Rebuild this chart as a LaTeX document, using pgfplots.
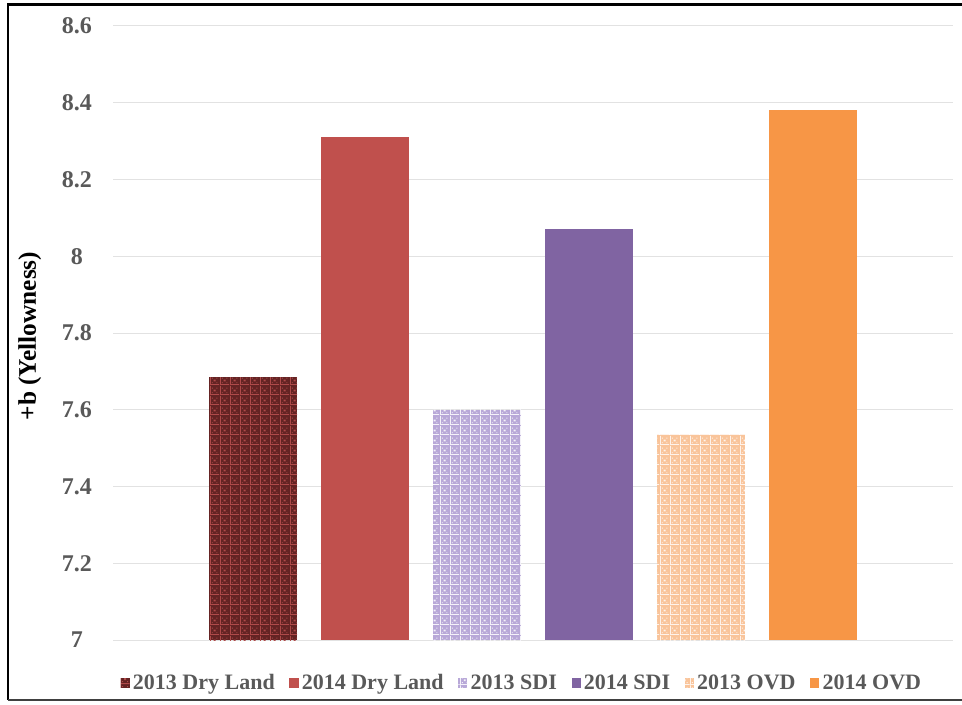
\documentclass[border=0pt]{standalone}
\usepackage{fontspec}
\setmainfont{Liberation Serif}
\usepackage{pgfplots}
\pgfplotsset{compat=1.18}
\usetikzlibrary{patterns}

\definecolor{txtgray}{HTML}{595959}
\definecolor{gridgray}{HTML}{E2E2E2}
\definecolor{dlbase}{HTML}{642323}
\definecolor{dlpat}{HTML}{B04A4A}
\definecolor{dl14}{HTML}{C0504D}
\definecolor{sdibase}{HTML}{B8A8D8}
\definecolor{sdi14}{HTML}{8064A2}
\definecolor{ovdbase}{HTML}{F9C49A}
\definecolor{ovd14}{HTML}{F79646}

% small plaid tile used for the 2013 bars
\pgfdeclarepatternformonly{plaid}{\pgfpointorigin}{\pgfpoint{7.5pt}{7.5pt}}{\pgfpoint{7.5pt}{7.5pt}}{
  \pgfpathrectangle{\pgfpoint{3pt}{3pt}}{\pgfpoint{1.5pt}{1.5pt}}
  \pgfpathrectangle{\pgfpoint{0pt}{0pt}}{\pgfpoint{7.5pt}{0.75pt}}
  \pgfpathrectangle{\pgfpoint{0pt}{0pt}}{\pgfpoint{0.75pt}{7.5pt}}
  \pgfpathrectangle{\pgfpoint{1.5pt}{1.5pt}}{\pgfpoint{0.75pt}{0.75pt}}
  \pgfpathrectangle{\pgfpoint{5.25pt}{5.25pt}}{\pgfpoint{0.75pt}{0.75pt}}
  \pgfpathrectangle{\pgfpoint{1.5pt}{5.25pt}}{\pgfpoint{0.75pt}{0.75pt}}
  \pgfpathrectangle{\pgfpoint{5.25pt}{1.5pt}}{\pgfpoint{0.75pt}{0.75pt}}
  \pgfusepath{fill}
}

\begin{document}
\begin{tikzpicture}
\path[use as bounding box] (0,0) rectangle (721.5pt,528pt);
% outer frame
\draw[line width=2.2pt] (721.5pt,524.5pt) -- (6pt,524.5pt) -- (6pt,3pt);
\draw[line width=1.6pt, black!75] (6pt,3pt) -- (721.5pt,3pt);

\begin{axis}[
  at={(84.75pt,48pt)}, anchor=south west,
  width=630pt, height=460.5pt, scale only axis,
  xmin=-0.25, xmax=7.25,
  ymin=7, ymax=8.6,
  ytick={7,7.2,7.4,7.6,7.8,8,8.2,8.4,8.6},
  xtick=\empty,
  ymajorgrids, major grid style={gridgray, line width=0.75pt},
  axis line style={draw=none},
  major tick length=0pt,
  /pgf/number format/assume math mode=true,
  yticklabel style={font=\fontsize{18}{20}\selectfont\bfseries, text=txtgray, anchor=center, xshift=-27pt},
  ylabel={+b (Yellowness)},
  ylabel style={font=\fontsize{19}{22}\selectfont\bfseries, text=black, at={(axis description cs:-0.099,0.495)}, anchor=center, rotate=0},
  legend columns=6,
  legend style={at={(axis description cs:0.4875,-0.070)}, anchor=center, draw=none, fill=none,
    font=\fontsize{16.5}{18}\selectfont\bfseries, text=txtgray,
    nodes={inner xsep=2.5pt},
    /tikz/every even column/.append style={column sep=8.5pt},
    inner sep=0pt},
  legend image code/.code={\path[#1,draw=none] (0pt,-3.4pt) rectangle (6.8pt,3.4pt);},
  every axis plot/.append style={ybar, bar width=66pt, bar shift=0pt, draw=none},
]
\addplot[fill=dlbase, postaction={pattern=plaid, pattern color=dlpat}] coordinates {(1,7.685)};
\addlegendentry{2013 Dry Land}
\addplot[fill=dl14] coordinates {(2,8.31)};
\addlegendentry{2014 Dry Land}
\addplot[fill=sdibase, postaction={pattern=plaid, pattern color=white!85!sdibase}] coordinates {(3,7.60)};
\addlegendentry{2013 SDI}
\addplot[fill=sdi14] coordinates {(4,8.07)};
\addlegendentry{2014 SDI}
\addplot[fill=ovdbase, postaction={pattern=plaid, pattern color=white!80!ovdbase}] coordinates {(5,7.535)};
\addlegendentry{2013 OVD}
\addplot[fill=ovd14] coordinates {(6,8.38)};
\addlegendentry{2014 OVD}
\end{axis}
\end{tikzpicture}
\end{document}
